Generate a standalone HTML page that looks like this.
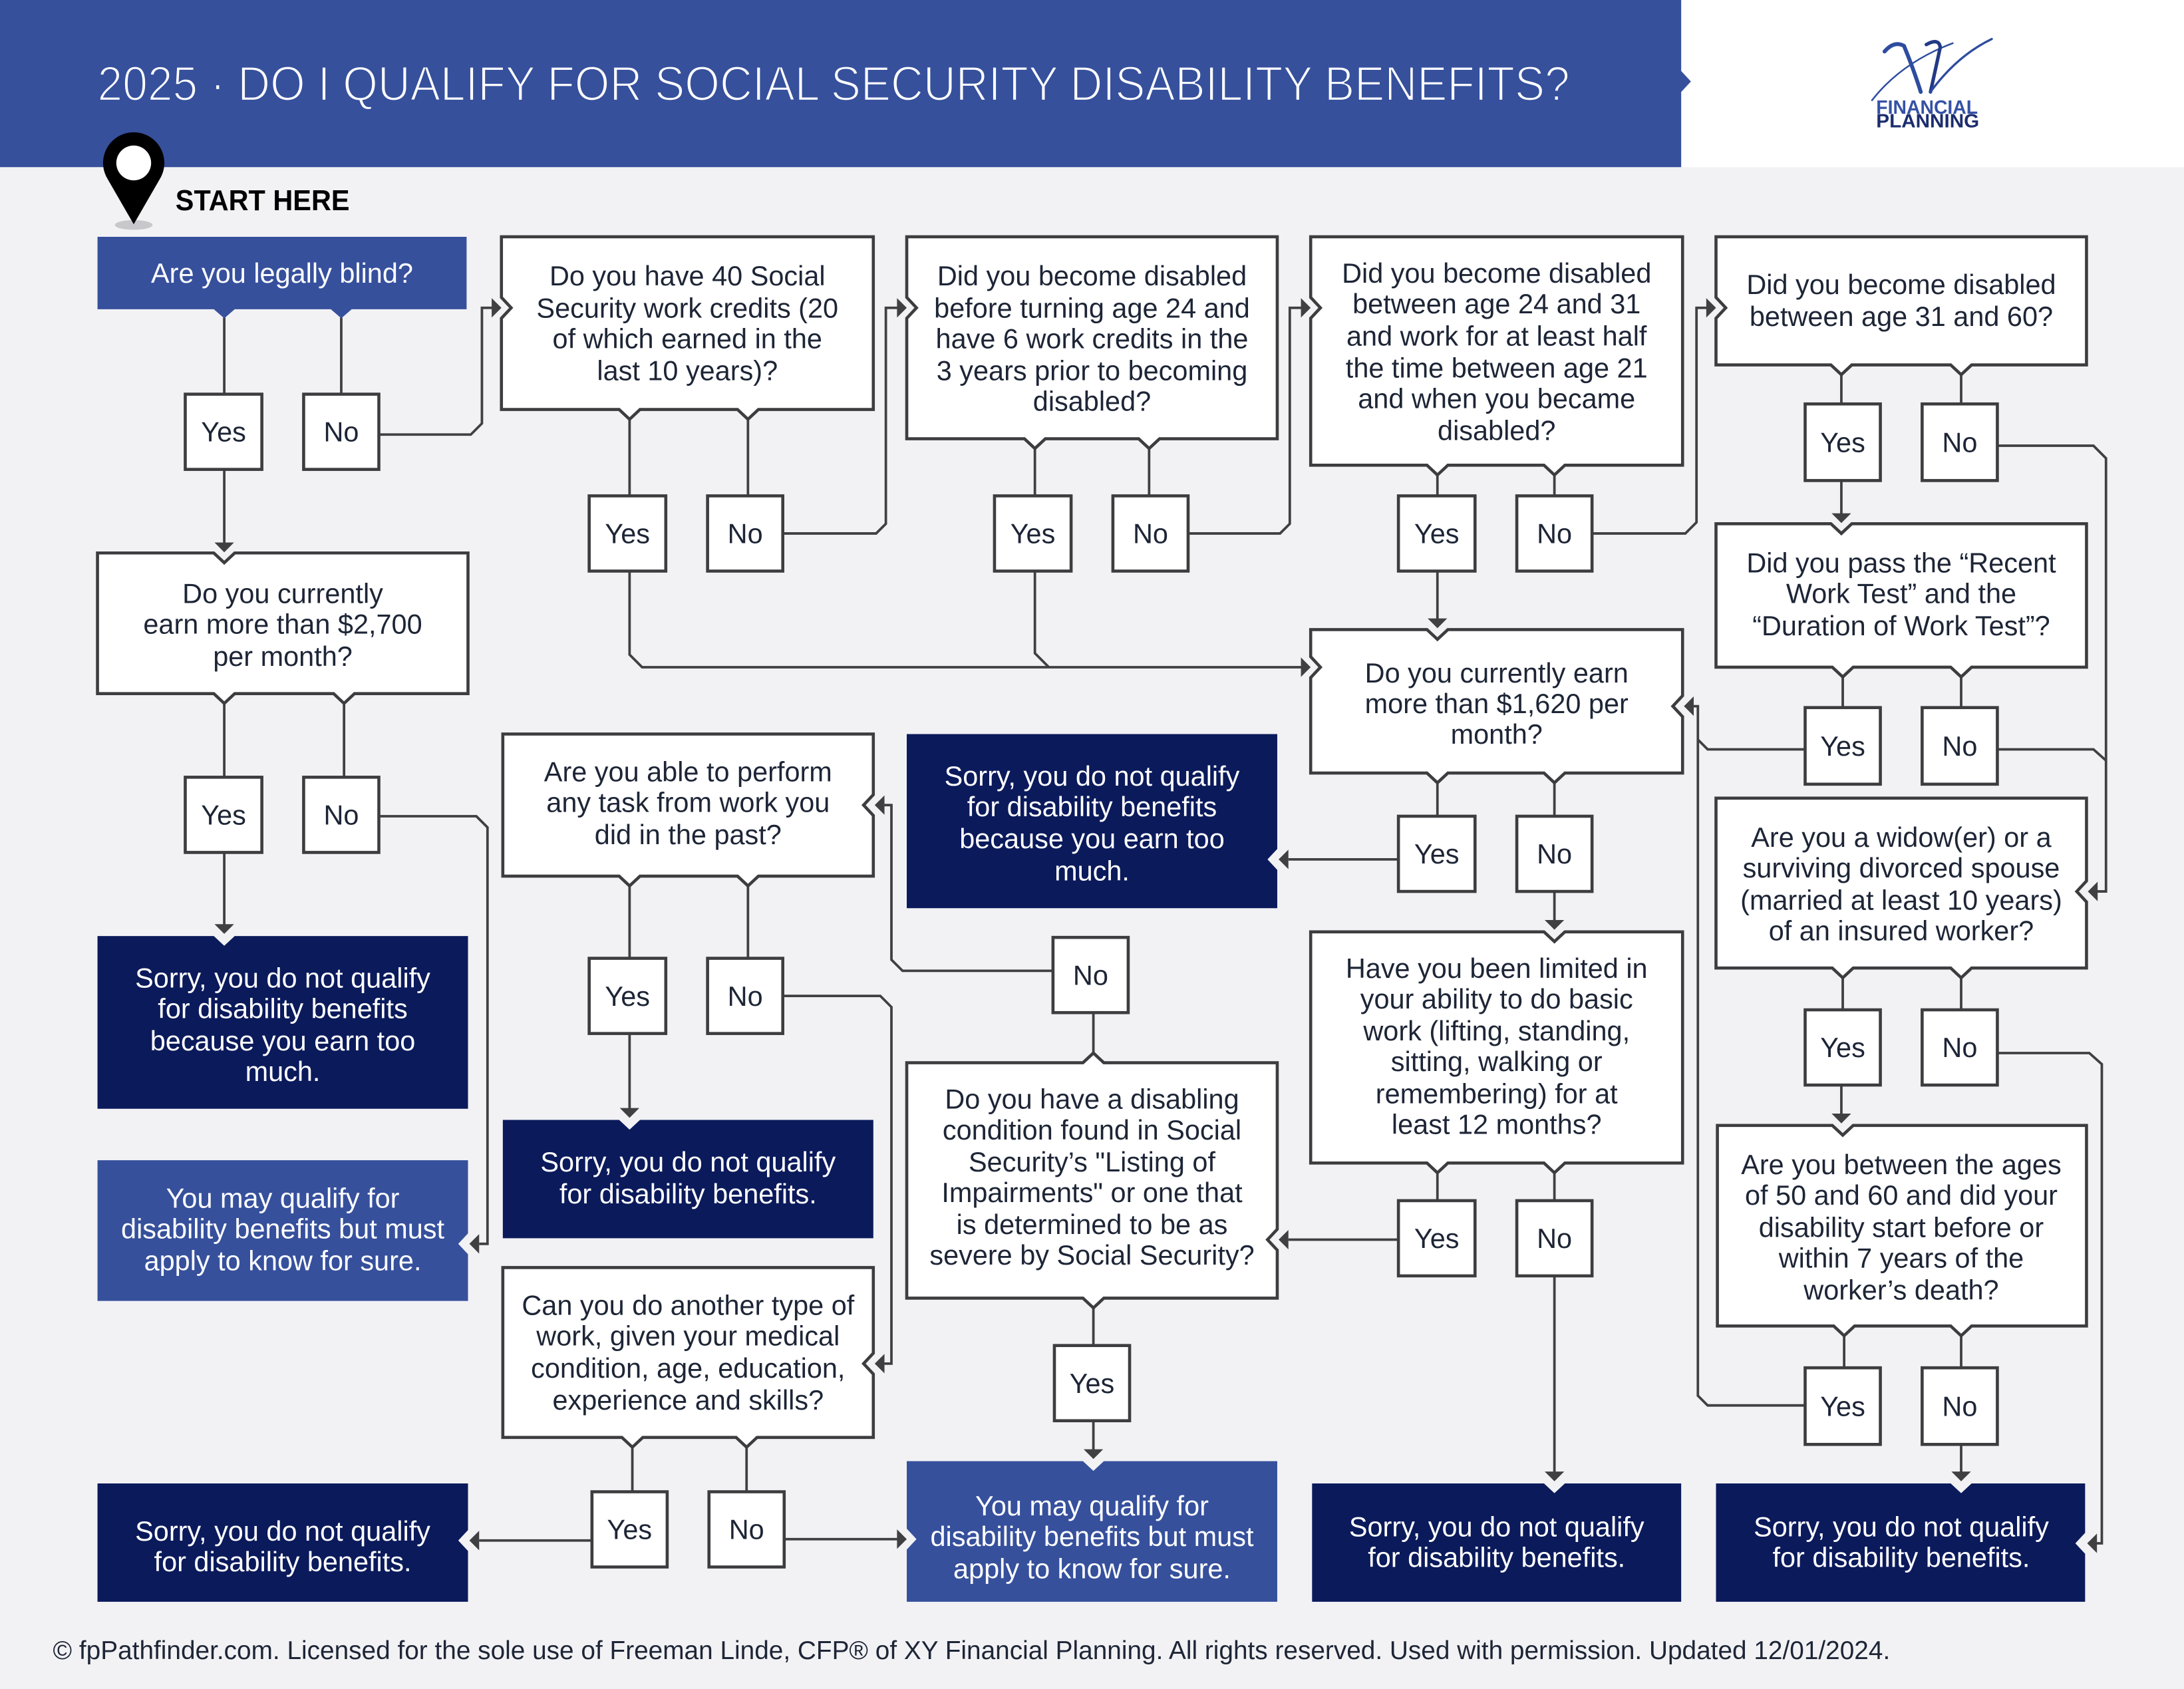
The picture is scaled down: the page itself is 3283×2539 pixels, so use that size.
<!DOCTYPE html>
<html>
<head>
<meta charset="utf-8">
<style>
html,body{margin:0;padding:0;background:#f2f2f5;}
body{width:3283px;height:2539px;overflow:hidden;}
svg{display:block;}
.t{font-family:"Liberation Sans","DejaVu Sans",sans-serif;font-size:19.8px;fill:#1d2536;text-anchor:middle;}
.w{fill:#ffffff;}
.bx{fill:#ffffff;stroke:#3d3d40;stroke-width:2.2;}
.ln{fill:none;stroke:#404043;stroke-width:1.8;stroke-linejoin:miter;}
.ar{fill:#404043;}
.blue{fill:#36509c;}
.navy{fill:#0b1a5b;}
</style>
</head>
<body>
<svg width="3283" height="2539" viewBox="0 0 1568 1212.6" preserveAspectRatio="none" xmlns="http://www.w3.org/2000/svg">
<rect x="0" y="0" width="1568" height="1213" fill="#f2f2f5"/>
<!-- Header -->
<rect x="1207" y="0" width="361" height="120" fill="#ffffff"/>
<polygon points="0,0 1207,0 1207,51 1214,58.5 1207,66 1207,120 0,120" fill="#36509c"/>
<text x="70" y="72" font-family="Liberation Sans, DejaVu Sans, sans-serif" font-size="35" font-weight="300" fill="#ffffff" stroke="#36509c" stroke-width="1.1" textLength="1057" lengthAdjust="spacingAndGlyphs">2025 · DO I QUALIFY FOR SOCIAL SECURITY DISABILITY BENEFITS?</text>
<!-- Logo -->
<g fill="none" stroke-linecap="round">
<path d="M1353,37 Q1360,29 1367,33 Q1374,50 1379,66" stroke="#2e4c9f" stroke-width="2.8"/>
<path d="M1344,72 Q1365,45 1402,31" stroke="#2e4c9f" stroke-width="1.2"/>
<path d="M1383,32 Q1392,27 1393,34 L1386,66" stroke="#223a86" stroke-width="2.5"/>
<path d="M1386,66 Q1405,40 1430,28" stroke="#2e4c9f" stroke-width="1.6"/>
</g>
<text x="1347" y="81.6" font-family="Liberation Sans, sans-serif" font-size="13.5" font-weight="bold" fill="#3652a6" textLength="73" lengthAdjust="spacingAndGlyphs">FINANCIAL</text>
<text x="1347" y="91.5" font-family="Liberation Sans, sans-serif" font-size="13.5" font-weight="bold" fill="#1c2d6e" textLength="74" lengthAdjust="spacingAndGlyphs">PLANNING</text>

<!-- Start here pin -->
<ellipse cx="96" cy="161.5" rx="13.5" ry="3.5" fill="#c8c8cc"/>
<path d="M96,161 L76.95,128 A22,22 0 1 1 115.05,128 Z" fill="#000"/>
<circle cx="96" cy="117" r="12.5" fill="#fff"/>
<text x="126" y="151" font-family="Liberation Sans, sans-serif" font-size="21" font-weight="bold" fill="#000" textLength="125" lengthAdjust="spacingAndGlyphs">START HERE</text>

<!-- Connectors -->
<g class="ln">
<path d="M161,228 V283"/>
<path d="M245,228 V283"/>
<path d="M161,337 V390"/>
<path d="M272,312 H338 L346,304 V221 H354"/>
<path d="M452,301 V356"/>
<path d="M537,301 V356"/>
<path d="M562,383 H629 L636,376 V221 H645"/>
<path d="M452,410 V470 L461,479 H935"/>
<path d="M743,322 V356"/>
<path d="M825,322 V356"/>
<path d="M743,410 V469 L753,479"/>
<path d="M853,383 H919 L926,376 V221 H935"/>
<path d="M1032,341 V356"/>
<path d="M1116,341 V356"/>
<path d="M1032,410 V445"/>
<path d="M1143,383 H1210 L1218,375 V221 H1226"/>
<path d="M1322,269 V290"/>
<path d="M1408,269 V290"/>
<path d="M1322,345 V369"/>
<path d="M1434,320 H1503 L1512,329 V640 H1505"/>
<path d="M1323,486 V508"/>
<path d="M1408,486 V508"/>
<path d="M1434,538 H1503 L1512,546"/>
<path d="M1296,538 H1226 L1219,531"/>
<path d="M1296,1009 H1226 L1219,1002 V507 H1216"/>
<path d="M1323,702 V725"/>
<path d="M1408,702 V725"/>
<path d="M1322,779 V800"/>
<path d="M1434,756 H1500 L1509,764 V1108 H1505"/>
<path d="M1324,959 V982"/>
<path d="M1408,959 V982"/>
<path d="M1408,1037 V1057"/>
<path d="M1032,562 V586"/>
<path d="M1116,562 V586"/>
<path d="M1004,617 H925"/>
<path d="M1116,640 V661"/>
<path d="M1032,842 V862"/>
<path d="M1116,842 V862"/>
<path d="M1004,890 H925"/>
<path d="M1116,916 V1057"/>
<path d="M785,727 V756"/>
<path d="M756,697 H648 L640,689 V578 H635"/>
<path d="M785,939 V966"/>
<path d="M785,1020 V1041"/>
<path d="M452,636 V688"/>
<path d="M537,636 V688"/>
<path d="M452,742 V796"/>
<path d="M562,715 H632 L640,723 V979 H635"/>
<path d="M454,1039 V1071"/>
<path d="M536,1039 V1071"/>
<path d="M425,1106 H344"/>
<path d="M563,1105 H645"/>
<path d="M161,505 V558"/>
<path d="M247,505 V558"/>
<path d="M161,612 V664"/>
<path d="M272,586 H342 L350,594 V893 H344"/>
</g>

<!-- Arrowheads -->
<g class="ar">
<polygon points="154,389.5 168,389.5 161,396.5"/>
<polygon points="353,214 353,228 360,221"/>
<polygon points="644,214 644,228 651,221"/>
<polygon points="934,472 934,486 941,479"/>
<polygon points="934,214 934,228 941,221"/>
<polygon points="1025,444 1039,444 1032,451"/>
<polygon points="1225,214 1225,228 1232,221"/>
<polygon points="1315,368.5 1329,368.5 1322,375.5"/>
<polygon points="1506,633 1506,647 1499,640"/>
<polygon points="1216,500 1216,514 1209,507"/>
<polygon points="1315,799.5 1329,799.5 1322,806.5"/>
<polygon points="1505.5,1101 1505.5,1115 1498.5,1108"/>
<polygon points="1401,1056.5 1415,1056.5 1408,1063.5"/>
<polygon points="925,610 925,624 918,617"/>
<polygon points="1109,660.5 1123,660.5 1116,667.5"/>
<polygon points="925,883 925,897 918,890"/>
<polygon points="1109,1056.5 1123,1056.5 1116,1063.5"/>
<polygon points="635,571 635,585 628,578"/>
<polygon points="778,1040.5 792,1040.5 785,1047.5"/>
<polygon points="445,795.5 459,795.5 452,802.5"/>
<polygon points="635,972 635,986 628,979"/>
<polygon points="344,1099 344,1113 337,1106"/>
<polygon points="644,1098 644,1112 651,1105"/>
<polygon points="154,663.5 168,663.5 161,670.5"/>
<polygon points="344,886 344,900 337,893"/>
</g>

<!-- Boxes -->
<path class="blue" d="M70,170 H335 V222 H252.5 L245,228.5 L237.5,222 H168.5 L161,228.5 L153.5,222 H70 Z"/>
<path class="bx" d="M70,397 H153.5 L161,404 L168.5,397 H336 V498 H254.5 L247,505 L239.5,498 H168.5 L161,505 L153.5,498 H70 Z"/>
<path class="bx" d="M360,170 H627 V294 H544.5 L537,301 L529.5,294 H459.5 L452,301 L444.5,294 H360 V228.5 L367,221 L360,213.5 Z"/>
<path class="bx" d="M651,170 H917 V315 H832.5 L825,322 L817.5,315 H750.5 L743,322 L735.5,315 H651 V228.5 L658,221 L651,213.5 Z"/>
<path class="bx" d="M941,170 H1208 V334 H1123.5 L1116,341 L1108.5,334 H1039.5 L1032,341 L1024.5,334 H941 V228.5 L948,221 L941,213.5 Z"/>
<path class="bx" d="M1232,170 H1498 V262 H1415.5 L1408,269 L1400.5,262 H1329.5 L1322,269 L1314.5,262 H1232 V228.5 L1239,221 L1232,213.5 Z"/>
<path class="bx" d="M1232,376 H1314.5 L1322,383 L1329.5,376 H1498 V479 H1415.5 L1408,486 L1400.5,479 H1330.5 L1323,486 L1315.5,479 H1232 Z"/>
<path class="bx" d="M1232,573 H1498 V632.5 L1491,640 L1498,647.5 V695 H1415.5 L1408,702 L1400.5,695 H1330.5 L1323,702 L1315.5,695 H1232 Z"/>
<path class="bx" d="M1233,808 H1315.5 L1323,815 L1330.5,808 H1498 V952 H1415.5 L1408,959 L1400.5,952 H1331.5 L1324,959 L1316.5,952 H1233 Z"/>
<path class="navy" d="M1232,1065 H1400.5 L1408,1072 L1415.5,1065 H1497 V1100.5 L1490,1108 L1497,1115.5 V1150 H1232 Z"/>
<path class="bx" d="M941,452 H1024.5 L1032,459 L1039.5,452 H1208 V499.5 L1201,507 L1208,514.5 V555 H1123.5 L1116,562 L1108.5,555 H1039.5 L1032,562 L1024.5,555 H941 V486.5 L948,479 L941,471.5 Z"/>
<path class="navy" d="M651,527 H917 V609.5 L910,617 L917,624.5 V652 H651 Z"/>
<path class="bx" d="M941,669 H1108.5 L1116,676 L1123.5,669 H1208 V835 H1123.5 L1116,842 L1108.5,835 H1039.5 L1032,842 L1024.5,835 H941 Z"/>
<path class="navy" d="M942,1065 H1108.5 L1116,1072 L1123.5,1065 H1207 V1150 H942 Z"/>
<path class="bx" d="M651,763 H777.5 L785,756 L792.5,763 H917 V882.5 L910,890 L917,897.5 V932 H792.5 L785,939 L777.5,932 H651 Z"/>
<path class="blue" d="M651,1049 H777.5 L785,1056 L792.5,1049 H917 V1150 H651 V1112.5 L658,1105 L651,1097.5 Z"/>
<path class="bx" d="M361,527 H627 V570.5 L620,578 L627,585.5 V629 H544.5 L537,636 L529.5,629 H459.5 L452,636 L444.5,629 H361 Z"/>
<path class="navy" d="M361,804 H444.5 L452,811 L459.5,804 H627 V889 H361 Z"/>
<path class="bx" d="M361,910 H627 V971.5 L620,979 L627,986.5 V1032 H543.5 L536,1039 L528.5,1032 H461.5 L454,1039 L446.5,1032 H361 Z"/>
<path class="navy" d="M70,1065 H336 V1098.5 L329,1106 L336,1113.5 V1150 H70 Z"/>
<path class="navy" d="M70,672 H153.5 L161,679 L168.5,672 H336 V796 H70 Z"/>
<path class="blue" d="M70,833 H336 V885.5 L329,893 L336,900.5 V934 H70 Z"/>

<!-- Yes/No boxes -->
<g class="bx">
<rect x="133" y="283" width="55" height="54"/>
<rect x="218" y="283" width="54" height="54"/>
<rect x="423" y="356" width="55" height="54"/>
<rect x="508" y="356" width="54" height="54"/>
<rect x="714" y="356" width="55" height="54"/>
<rect x="799" y="356" width="54" height="54"/>
<rect x="1004" y="356" width="55" height="54"/>
<rect x="1089" y="356" width="54" height="54"/>
<rect x="1296" y="290" width="54" height="55"/>
<rect x="1380" y="290" width="54" height="55"/>
<rect x="1296" y="508" width="54" height="55"/>
<rect x="1380" y="508" width="54" height="55"/>
<rect x="133" y="558" width="55" height="54"/>
<rect x="218" y="558" width="54" height="54"/>
<rect x="1004" y="586" width="55" height="54"/>
<rect x="1089" y="586" width="54" height="54"/>
<rect x="756" y="673" width="54" height="54"/>
<rect x="423" y="688" width="55" height="54"/>
<rect x="508" y="688" width="54" height="54"/>
<rect x="1296" y="725" width="54" height="54"/>
<rect x="1380" y="725" width="54" height="54"/>
<rect x="1004" y="862" width="55" height="54"/>
<rect x="1089" y="862" width="54" height="54"/>
<rect x="757" y="966" width="54" height="54"/>
<rect x="1296" y="982" width="54" height="55"/>
<rect x="1380" y="982" width="54" height="55"/>
<rect x="425" y="1071" width="54" height="54"/>
<rect x="509" y="1071" width="54" height="54"/>
</g>
<g class="t">
<text x="160.5" y="317">Yes</text><text x="245" y="317">No</text>
<text x="450.5" y="390">Yes</text><text x="535" y="390">No</text>
<text x="741.5" y="390">Yes</text><text x="826" y="390">No</text>
<text x="1031.5" y="390">Yes</text><text x="1116" y="390">No</text>
<text x="1323" y="324.5">Yes</text><text x="1407" y="324.5">No</text>
<text x="1323" y="542.5">Yes</text><text x="1407" y="542.5">No</text>
<text x="160.5" y="592">Yes</text><text x="245" y="592">No</text>
<text x="1031.5" y="620">Yes</text><text x="1116" y="620">No</text>
<text x="783" y="707">No</text>
<text x="450.5" y="722">Yes</text><text x="535" y="722">No</text>
<text x="1323" y="759">Yes</text><text x="1407" y="759">No</text>
<text x="1031.5" y="896">Yes</text><text x="1116" y="896">No</text>
<text x="784" y="1000">Yes</text>
<text x="1323" y="1016.5">Yes</text><text x="1407" y="1016.5">No</text>
<text x="452" y="1105">Yes</text><text x="536" y="1105">No</text>
</g>

<!-- Box texts -->
<g class="t">
<text class="t w" x="202.5" y="203">Are you legally blind?</text>

<text x="493.5" y="205">Do you have 40 Social</text>
<text x="493.5" y="228">Security work credits (20</text>
<text x="493.5" y="250">of which earned in the</text>
<text x="493.5" y="273">last 10 years)?</text>

<text x="784" y="205">Did you become disabled</text>
<text x="784" y="228">before turning age 24 and</text>
<text x="784" y="250">have 6 work credits in the</text>
<text x="784" y="273">3 years prior to becoming</text>
<text x="784" y="295">disabled?</text>

<text x="1074.5" y="203">Did you become disabled</text>
<text x="1074.5" y="225">between age 24 and 31</text>
<text x="1074.5" y="248">and work for at least half</text>
<text x="1074.5" y="271">the time between age 21</text>
<text x="1074.5" y="293">and when you became</text>
<text x="1074.5" y="316">disabled?</text>

<text x="1365" y="211">Did you become disabled</text>
<text x="1365" y="234">between age 31 and 60?</text>

<text x="1365" y="411">Did you pass the “Recent</text>
<text x="1365" y="433">Work Test” and the</text>
<text x="1365" y="456">“Duration of Work Test”?</text>

<text x="203" y="433">Do you currently</text>
<text x="203" y="455">earn more than $2,700</text>
<text x="203" y="478">per month?</text>

<text x="1074.5" y="490">Do you currently earn</text>
<text x="1074.5" y="512">more than $1,620 per</text>
<text x="1074.5" y="534">month?</text>

<text x="494" y="561">Are you able to perform</text>
<text x="494" y="583">any task from work you</text>
<text x="494" y="606">did in the past?</text>

<text class="t w" x="784" y="564">Sorry, you do not qualify</text>
<text class="t w" x="784" y="586">for disability benefits</text>
<text class="t w" x="784" y="609">because you earn too</text>
<text class="t w" x="784" y="632">much.</text>

<text x="1365" y="608">Are you a widow(er) or a</text>
<text x="1365" y="630">surviving divorced spouse</text>
<text x="1365" y="653">(married at least 10 years)</text>
<text x="1365" y="675">of an insured worker?</text>

<text class="t w" x="203" y="709">Sorry, you do not qualify</text>
<text class="t w" x="203" y="731">for disability benefits</text>
<text class="t w" x="203" y="754">because you earn too</text>
<text class="t w" x="203" y="776">much.</text>

<text x="1074.5" y="702">Have you been limited in</text>
<text x="1074.5" y="724">your ability to do basic</text>
<text x="1074.5" y="747">work (lifting, standing,</text>
<text x="1074.5" y="769">sitting, walking or</text>
<text x="1074.5" y="792">remembering) for at</text>
<text x="1074.5" y="814">least 12 months?</text>

<text x="784" y="796">Do you have a disabling</text>
<text x="784" y="818">condition found in Social</text>
<text x="784" y="841">Security’s "Listing of</text>
<text x="784" y="863">Impairments" or one that</text>
<text x="784" y="886">is determined to be as</text>
<text x="784" y="908">severe by Social Security?</text>

<text x="1365" y="843">Are you between the ages</text>
<text x="1365" y="865">of 50 and 60 and did your</text>
<text x="1365" y="888">disability start before or</text>
<text x="1365" y="910">within 7 years of the</text>
<text x="1365" y="933">worker’s death?</text>

<text class="t w" x="494" y="841">Sorry, you do not qualify</text>
<text class="t w" x="494" y="864">for disability benefits.</text>

<text class="t w" x="203" y="867">You may qualify for</text>
<text class="t w" x="203" y="889">disability benefits but must</text>
<text class="t w" x="203" y="912">apply to know for sure.</text>

<text x="494" y="944">Can you do another type of</text>
<text x="494" y="966">work, given your medical</text>
<text x="494" y="989">condition, age, education,</text>
<text x="494" y="1012">experience and skills?</text>

<text class="t w" x="203" y="1106">Sorry, you do not qualify</text>
<text class="t w" x="203" y="1128">for disability benefits.</text>

<text class="t w" x="784" y="1088">You may qualify for</text>
<text class="t w" x="784" y="1110">disability benefits but must</text>
<text class="t w" x="784" y="1133">apply to know for sure.</text>

<text class="t w" x="1074.5" y="1103">Sorry, you do not qualify</text>
<text class="t w" x="1074.5" y="1125">for disability benefits.</text>

<text class="t w" x="1365" y="1103">Sorry, you do not qualify</text>
<text class="t w" x="1365" y="1125">for disability benefits.</text>
</g>

<!-- Footer -->
<text x="38" y="1191" font-family="Liberation Sans, DejaVu Sans, sans-serif" font-size="18.5" fill="#1d2536" textLength="1319" lengthAdjust="spacingAndGlyphs">© fpPathfinder.com. Licensed for the sole use of Freeman Linde, CFP® of XY Financial Planning. All rights reserved. Used with permission. Updated 12/01/2024.</text>
</svg>
</body>
</html>
